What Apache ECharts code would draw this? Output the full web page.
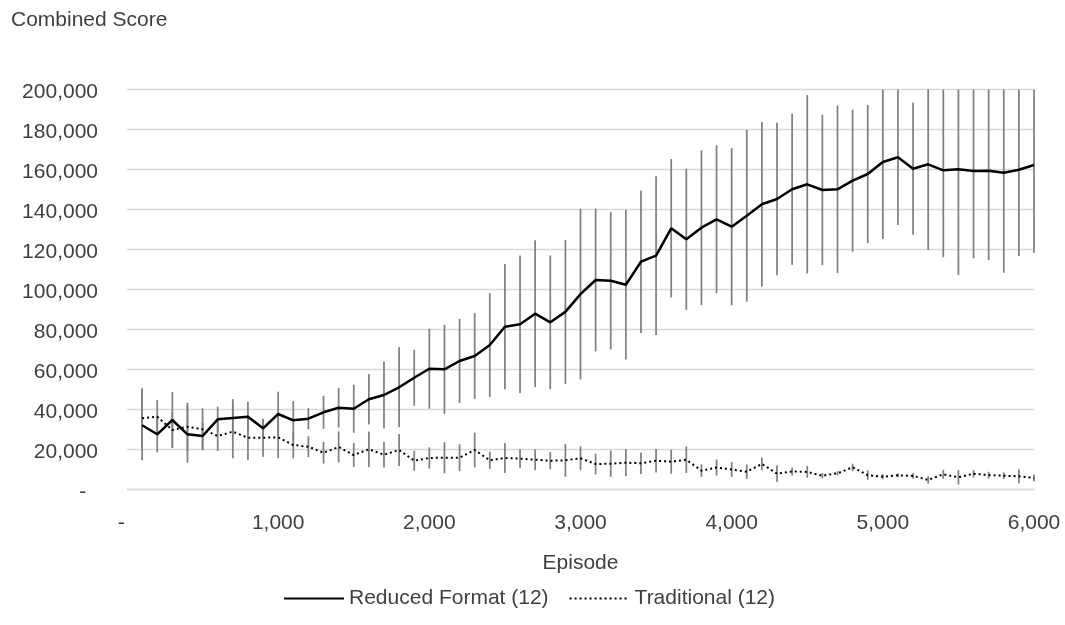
<!DOCTYPE html>
<html>
<head>
<meta charset="utf-8">
<script src="https://cdn.jsdelivr.net/npm/echarts@6/dist/echarts.min.js"></script>
<style>html,body{margin:0;padding:0;background:#fff;}#c{width:1065px;height:625px;}</style>
</head>
<body>
<div id="c"></div>
<script>
// Episodes (x positions)
const episodes = [100,200,300,400,500,600,700,800,900,1000,1100,1200,1300,1400,1500,1600,1700,1800,1900,2000,2100,2200,2300,2400,2500,2600,2700,2800,2900,3000,3100,3200,3300,3400,3500,3600,3700,3800,3900,4000,4100,4200,4300,4400,4500,4600,4700,4800,4900,5000,5100,5200,5300,5400,5500,5600,5700,5800,5900,6000];
// Reduced Format (12) mean score
const reducedValues = [32100,27600,34750,27600,26750,35100,35750,36400,30600,37750,34600,35400,38600,40900,40400,45100,47250,51100,55900,60400,60100,64250,66750,72250,81400,82600,87900,83600,88800,97700,104750,104400,102400,113900,116900,130600,125100,130900,135100,131400,136900,142600,145250,150100,152600,149750,150100,154400,157750,163750,166100,160400,162600,159600,160100,159250,159400,158400,159900,162250];
// Reduced Format (12) error (+/-)
const reducedErrors = [17500,9000,14000,14200,6600,6300,9400,7500,4500,11150,9650,5300,8300,9900,12000,12600,16800,20000,14000,20000,22300,21000,21400,26000,31300,34400,36700,33400,36000,42700,35700,34300,37400,35600,39700,34600,35300,38700,37000,39300,43000,41200,38100,37750,44600,37600,41850,35500,34500,38500,33850,33000,42850,43500,52850,43650,44650,50000,43150,43850];
// Traditional (12) mean score
const traditionalValues = [35600,36400,29750,31400,30100,26750,28900,25900,25900,26100,22250,21400,18400,21250,17250,20100,17400,19750,14400,15750,15900,15900,19750,14600,15750,15400,14900,14400,14600,15600,12750,12900,13400,13100,14400,13900,14900,9400,11000,10000,8900,12800,7900,9000,8800,6900,8100,11100,7200,6400,7100,6800,4800,7600,6100,7900,7200,6900,6600,5800];
// Traditional (12) error (+/-)
const traditionalErrors = [15000,8400,9000,12000,10500,7500,13300,11300,9500,10500,6650,5200,5400,7800,6000,8900,6400,8000,5000,5300,7800,6700,8700,4300,7500,4700,5200,4300,8200,6000,5200,6600,6800,5400,5900,6000,6600,3100,4000,3700,3600,3200,4200,2000,3000,1300,1000,1800,2350,1250,1000,1400,1850,2250,3600,1850,1650,1650,3500,1650];
const xTicks = [0,1000,2000,3000,4000,5000,6000];
const yTicks = [0,20000,40000,60000,80000,100000,120000,140000,160000,180000,200000];
const seriesNames = ['Reduced Format (12)', 'Traditional (12)'];

function hasFont(name){
  const c = document.createElement('canvas').getContext('2d');
  c.font = '40px monospace';
  const w1 = c.measureText('Combined Score 0123').width;
  c.font = '40px "' + name + '", monospace';
  return c.measureText('Combined Score 0123').width !== w1;
}
const narrow = hasFont('Liberation Sans Narrow');
const FONT = narrow ? '"Liberation Sans Narrow", "Liberation Sans", Arial, sans-serif' : '"Liberation Sans", Arial, sans-serif';
const FS = narrow ? 25 : 21;
const TXT = '#404040';

const YMAX = yTicks[yTicks.length-1];
const pts = (vals) => episodes.map((x,i) => [x, vals[i]]);
const bars = (vals, errs) => episodes.map((x,i) => [x, Math.max(0, vals[i]-errs[i]), Math.min(YMAX, vals[i]+errs[i])]);

function errRender(params, api){
  const p1 = api.coord([api.value(0), api.value(1)]);
  const p2 = api.coord([api.value(0), api.value(2)]);
  return {type:'line', shape:{x1:p1[0], y1:p1[1], x2:p2[0], y2:p2[1]}, style:{stroke:'#808080', lineWidth:1.75}};
}

const fmt = (v) => v === 0 ? '-  ' : v.toLocaleString('en-US');

const chart = echarts.init(document.getElementById('c'));
chart.setOption({
  animation: false,
  backgroundColor: '#fff',
  textStyle: {fontFamily: FONT},
  title: {text: 'Combined Score', left: 11, top: 10, padding: 0,
    textStyle: {fontFamily: FONT, fontSize: FS, fontWeight: 'normal', color: TXT}},
  legend: {
    data: seriesNames, left: 283, top: 588, padding: 0, itemWidth: 60, itemHeight: 14, itemGap: 20,
    itemStyle: {opacity: 0},
    textStyle: {fontFamily: FONT, fontSize: FS, color: TXT}
  },
  grid: {left: 127, right: 31, top: 89.5, bottom: 135.5, containLabel: false, outerBoundsMode: 'none'},
  xAxis: {
    type: 'value', min: xTicks[0], max: xTicks[xTicks.length-1], interval: 1000,
    name: 'Episode', nameLocation: 'middle', nameGap: 63,
    nameTextStyle: {fontFamily: FONT, fontSize: FS, color: TXT},
    axisLine: {show: true, lineStyle: {color: '#d9d9d9', width: 1.3}},
    axisTick: {show: false},
    splitLine: {show: false},
    axisLabel: {fontFamily: FONT, fontSize: FS, color: TXT, margin: 23, formatter: fmt}
  },
  yAxis: {
    type: 'value', min: yTicks[0], max: YMAX, interval: 20000,
    axisLine: {show: false}, axisTick: {show: false},
    splitLine: {show: true, lineStyle: {color: '#d9d9d9', width: 1.3}},
    axisLabel: {fontFamily: FONT, fontSize: FS, color: TXT, margin: 29,
      formatter: (v) => '{v|' + fmt(v) + '}',
      rich: {v: {fontFamily: FONT, fontSize: FS, color: TXT, padding: [6, 0, 0, 0]}}}
  },
  series: [
    {type: 'custom', name: 'errReduced', renderItem: errRender, data: bars(reducedValues, reducedErrors), z: 2, silent: true},
    {type: 'custom', name: 'errTraditional', renderItem: errRender, data: bars(traditionalValues, traditionalErrors), z: 2, silent: true},
    {type: 'line', name: seriesNames[0], data: pts(reducedValues), symbol: 'none', z: 3,
      lineStyle: {color: '#000', width: 2.5}, itemStyle: {color: '#000'}},
    {type: 'line', name: seriesNames[1], data: pts(traditionalValues), symbol: 'none', z: 4,
      lineStyle: {color: '#000', width: 2, type: [2, 3]}, itemStyle: {color: '#000'}}
  ]
});
</script>
</body>
</html>
